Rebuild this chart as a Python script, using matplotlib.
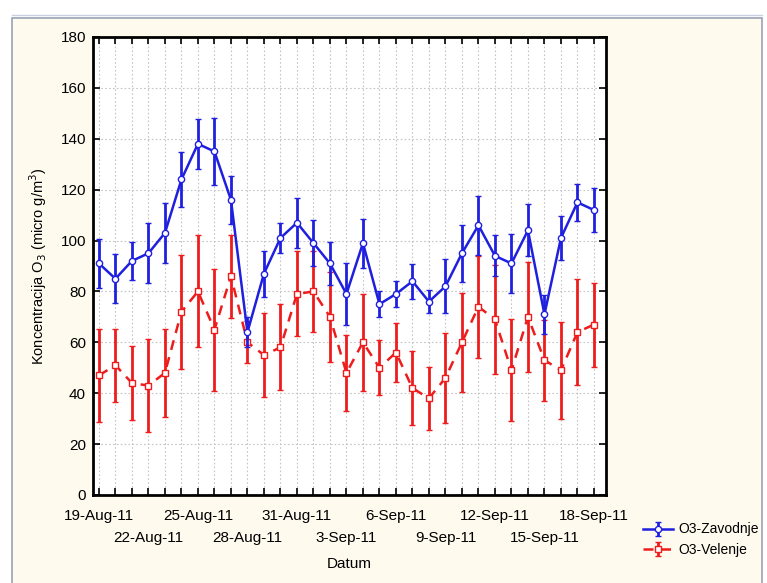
import matplotlib.pyplot as plt
import matplotlib.dates as mdates
from matplotlib.patches import Rectangle
import pandas as pd

plt.rcParams.update({
    'font.family': ['Liberation Sans', 'DejaVu Sans'],
    'font.size': 10,
})

PANEL = '#fefaee'
BLUE = '#1f1fe0'
RED = '#ee1c1c'

dates = pd.date_range('2011-08-19', periods=31, freq='D')

zavodnje = [91, 85, 92, 95, 103, 124, 138, 135, 116, 64, 87,
            101, 107, 99, 91, 79, 99, 75, 79, 84, 76,
            82, 95, 106, 94, 91, 104, 71, 101, 115, 112]
zavodnje_err = [9.7, 9.6, 7.6, 11.8, 11.7, 10.7, 9.8, 13, 9.5, 6, 9,
                6, 9.8, 9, 8.3, 12.3, 9.6, 5.2, 5.2, 6.9, 4.6,
                10.6, 11.2, 11.6, 8, 11.7, 10.2, 7.6, 8.8, 7.4, 8.5]

velenje = [47, 51, 44, 43, 48, 72, 80, 65, 86, 60, 55,
           58, 79, 80, 70, 48, 60, 50, 56, 42, 38,
           46, 60, 74, 69, 49, 70, 53, 49, 64, 67]
velenje_err = [18.2, 14.3, 14.4, 18.4, 17.3, 22.4, 22, 24, 16.3, 8.2, 16.5,
               16.9, 16.7, 15.8, 17.6, 15, 19, 10.8, 11.5, 14.4, 12.5,
               17.7, 19.5, 20, 21.4, 20, 21.6, 15.9, 19, 20.7, 16.5]

fig = plt.figure(figsize=(7.67, 5.83), dpi=100, facecolor='white')

# cream panel behind the chart
fig.patches.append(Rectangle((12 / 767, -0.01), 750 / 767, 1 - 18 / 583 + 0.01,
                             transform=fig.transFigure, facecolor=PANEL,
                             edgecolor='#9aa3b5', linewidth=1.2, zorder=-2))
fig.add_artist(plt.Line2D([12 / 767, 762 / 767], [1 - 15 / 583, 1 - 15 / 583],
                          transform=fig.transFigure, color='#c8d0e0', linewidth=1,
                          zorder=-2))

ax = fig.add_axes([93 / 767, 1 - 495 / 583, 513 / 767, 458 / 583])
ax.set_facecolor('white')

ax.errorbar(dates, zavodnje, yerr=zavodnje_err, color=BLUE, linewidth=1.8,
            marker='o', markersize=4.5, markerfacecolor='white', markeredgecolor=BLUE,
            markeredgewidth=1.0, elinewidth=2.0, capsize=2.5, capthick=1.5,
            label='O3-Zavodnje', zorder=4)
ax.errorbar(dates, velenje, yerr=velenje_err, color=RED, linewidth=1.8, linestyle='--',
            dashes=(4, 3), marker='s', markersize=5, markerfacecolor='white',
            markeredgecolor=RED, markeredgewidth=1.0, elinewidth=2.0, capsize=2.5,
            capthick=1.5, label='O3-Velenje', zorder=3)

x0 = mdates.date2num(dates[0])
ax.set_xlim(x0 - 0.36, x0 + 30.73)
ax.set_ylim(0, 180)
ax.set_yticks(range(0, 181, 20))

# day ticks: every 6th day labelled on the upper row, the ones between on the lower row
day_nums = mdates.date2num(dates)
fmt = [f"{d.day}-{d.strftime('%b-%y')}" for d in dates]
major_idx = [i for i in range(len(dates)) if i % 6 == 0]
minor_idx = [i for i in range(len(dates)) if i % 6 != 0]
ax.set_xticks(day_nums[major_idx])
ax.set_xticklabels([fmt[i] for i in major_idx])
ax.set_xticks(day_nums[minor_idx], minor=True)
ax.set_xticklabels([fmt[i] if i % 6 == 3 else '' for i in minor_idx], minor=True)

ax.grid(True, which='both', axis='x', color='#c4c4c4', linestyle=(0, (1.5, 2)), linewidth=0.8)
ax.grid(True, axis='y', color='#c4c4c4', linestyle=(0, (1.5, 2)), linewidth=0.8)
ax.tick_params(which='both', direction='in', top=True, right=True, length=5, width=1.2,
               labelsize=11)
ax.tick_params(axis='x', which='major', pad=10)
ax.tick_params(axis='x', which='minor', pad=26)
ax.tick_params(axis='y', pad=5)
for s in ax.spines.values():
    s.set_linewidth(2)
    s.set_color('black')

ax.set_xlabel('Datum', fontsize=11)
ax.xaxis.set_label_coords(0.5, -0.135)
ax.set_ylabel('Koncentracija O$_3$ (micro g/m$^3$)', fontsize=10.5, labelpad=8)

fig.legend(loc='upper left', bbox_to_anchor=(630 / 767, 1 - 510 / 583), frameon=False,
           fontsize=10, handlelength=2.2, handletextpad=0.4, labelspacing=0.45)

plt.savefig('out.png', dpi=100, facecolor=fig.get_facecolor())
